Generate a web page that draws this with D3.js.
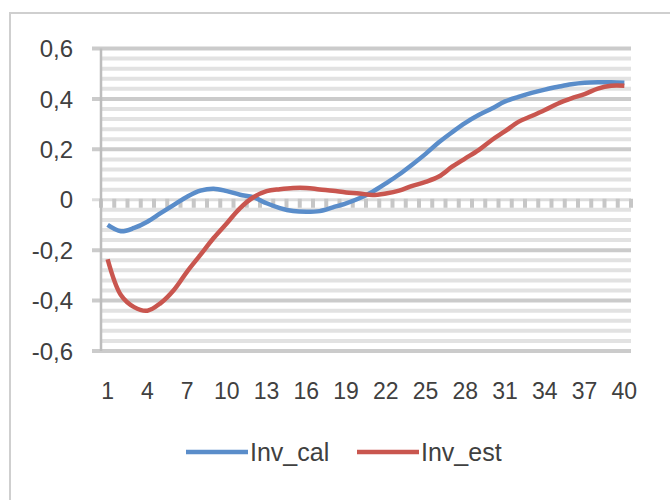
<!DOCTYPE html>
<html><head><meta charset="utf-8">
<script src="https://cdn.jsdelivr.net/npm/d3@7"></script>
<style>html,body{margin:0;padding:0;background:#fff;}svg{display:block;}</style>
</head><body>
<svg id="chart" width="670" height="500"></svg>
<script>
const categories = d3.range(1, 41);
const invCal = [-0.10,-0.125,-0.112,-0.087,-0.053,-0.02,0.012,0.036,0.044,0.034,0.02,0.01,-0.014,-0.033,-0.045,-0.048,-0.045,-0.03,-0.014,0.006,0.032,0.065,0.10,0.14,0.182,0.228,0.268,0.305,0.336,0.362,0.39,0.408,0.424,0.437,0.448,0.458,0.464,0.466,0.466,0.464];
const invEst = [-0.236,-0.378,-0.426,-0.44,-0.41,-0.358,-0.285,-0.219,-0.152,-0.093,-0.033,0.01,0.034,0.042,0.047,0.047,0.041,0.036,0.029,0.025,0.019,0.025,0.036,0.055,0.071,0.092,0.131,0.164,0.197,0.237,0.272,0.309,0.332,0.356,0.382,0.402,0.419,0.441,0.452,0.452];
const xTickLabels = [1,4,7,10,13,16,19,22,25,28,31,34,37,40];
const yMajorTicks = [-0.6,-0.4,-0.2,0,0.2,0.4,0.6];
const seriesNames = ["Inv_cal","Inv_est"];
const seriesColors = ["#5a8dca","#c9564f"];

const svg = d3.select("#chart");
const font = "'Liberation Sans', Arial, sans-serif";

// outer frame (top and left visible)
svg.append("rect").attr("x",10).attr("y",13).attr("width",700).attr("height",600)
  .attr("fill","none").attr("stroke","#cfcfcf").attr("stroke-width",2);

const x = d3.scaleBand().domain(categories).range([101, 631]);
const y = d3.scaleLinear().domain([-0.6, 0.6]).range([351, 48.5]);

// minor gridlines
const minor = d3.range(-0.56, 0.6, 0.04).map(v => +v.toFixed(2)).filter(v => Math.abs(v*5 - Math.round(v*5)) > 1e-6);
svg.append("g").selectAll("line").data(minor).join("line")
  .attr("x1",101).attr("x2",631).attr("y1",d=>y(d)).attr("y2",d=>y(d))
  .attr("stroke","#e2e2e2").attr("stroke-width",4);

// major gridlines + ticks
svg.append("g").selectAll("line").data(yMajorTicks.filter(v=>v!==0)).join("line")
  .attr("x1",92).attr("x2",631).attr("y1",d=>y(d)).attr("y2",d=>y(d))
  .attr("stroke","#cbcbcb").attr("stroke-width",4);

// zero line (horizontal axis) with tick marks
svg.append("line").attr("x1",92).attr("x2",631).attr("y1",y(0)).attr("y2",y(0))
  .attr("stroke","#dcdcdc").attr("stroke-width",3);
const boundaries = categories.map(c => x(c)).concat([x(40)+x.bandwidth()]);
svg.append("g").selectAll("line").data(boundaries).join("line")
  .attr("x1",d=>d).attr("x2",d=>d).attr("y1",y(0)-1).attr("y2",y(0)+8)
  .attr("stroke","#c6c6c6").attr("stroke-width",4);

// vertical axis line
svg.append("line").attr("x1",101).attr("x2",101).attr("y1",y(0.6)).attr("y2",y(-0.6))
  .attr("stroke","#bdbdbd").attr("stroke-width",2.5);

// y labels
svg.append("g").selectAll("text").data(yMajorTicks).join("text")
  .attr("x",73).attr("y",d=>y(d)).attr("dy","0.36em").attr("text-anchor","end")
  .attr("font-family",font).attr("font-size",24).attr("fill","#404040")
  .text(d => d === 0 ? "0" : d3.format(".1f")(d).replace("−","-").replace(".",","));

// x labels
svg.append("g").selectAll("text").data(xTickLabels).join("text")
  .attr("x",d=>x(d)+x.bandwidth()/2).attr("y",391).attr("dy","0.36em").attr("text-anchor","middle")
  .attr("font-family",font).attr("font-size",23).attr("fill","#404040")
  .text(d=>d);

// lines
const line = d3.line().x((d,i)=>x(categories[i])+x.bandwidth()/2).y(d=>y(d)).curve(d3.curveCatmullRom.alpha(0.5));
[invCal, invEst].forEach((s,k)=>{
  svg.append("path").datum(s).attr("d",line).attr("fill","none")
    .attr("stroke",seriesColors[k]).attr("stroke-width",4.5).attr("stroke-linejoin","round");
});

// legend
const legendX = [186, 357];
seriesNames.forEach((n,k)=>{
  svg.append("line").attr("x1",legendX[k]).attr("x2",legendX[k]+62).attr("y1",452).attr("y2",452)
    .attr("stroke",seriesColors[k]).attr("stroke-width",4.5);
  svg.append("text").attr("x",legendX[k]+64).attr("y",452).attr("dy","0.36em")
    .attr("font-family",font).attr("font-size",25).attr("fill","#404040").text(n);
});
</script>
</body></html>
